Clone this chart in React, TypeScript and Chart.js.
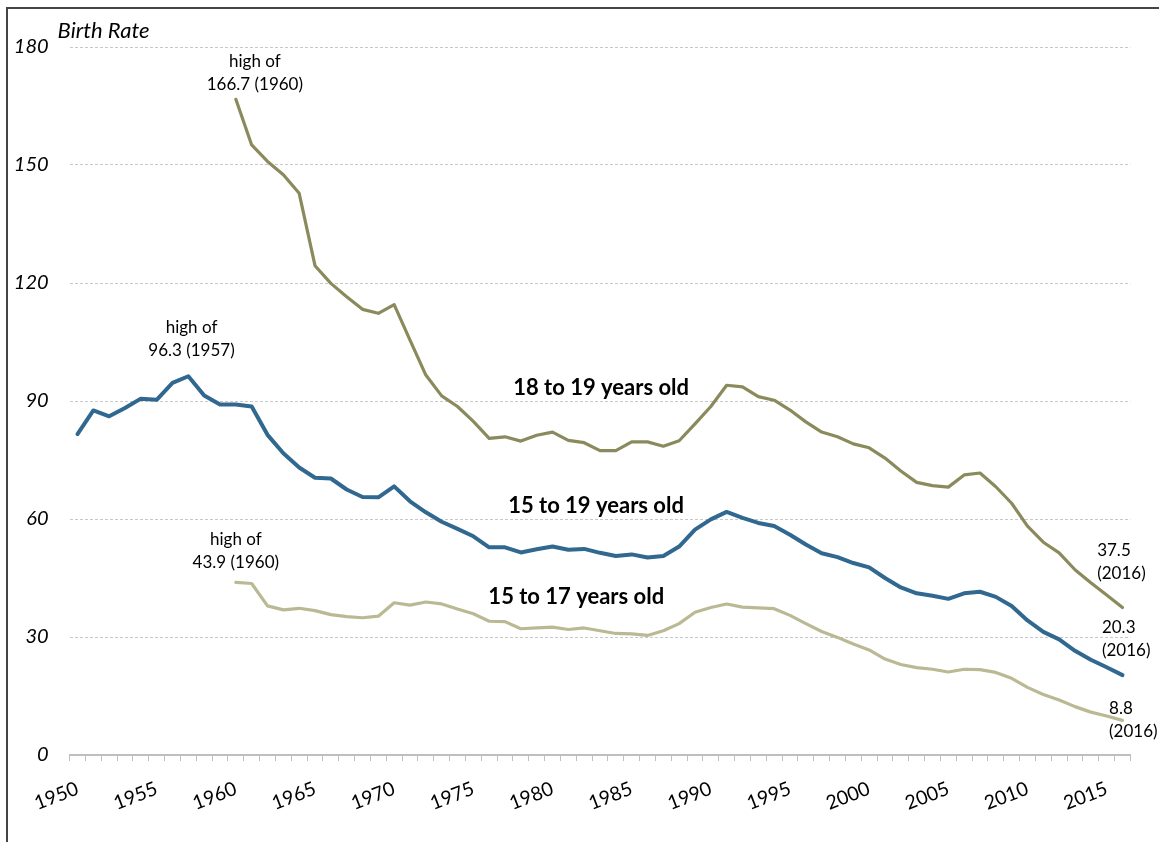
import React, { useEffect, useRef } from 'react';
import { Chart, registerables } from 'chart.js';

Chart.register(...registerables);

const years = [
  '1950','1951','1952','1953','1954','1955','1956','1957','1958','1959',
  '1960','1961','1962','1963','1964','1965','1966','1967','1968','1969',
  '1970','1971','1972','1973','1974','1975','1976','1977','1978','1979',
  '1980','1981','1982','1983','1984','1985','1986','1987','1988','1989',
  '1990','1991','1992','1993','1994','1995','1996','1997','1998','1999',
  '2000','2001','2002','2003','2004','2005','2006','2007','2008','2009',
  '2010','2011','2012','2013','2014','2015','2016',
];

const tickYears = ['1950','1955','1960','1965','1970','1975','1980','1985','1990','1995','2000','2005','2010','2015'];

const yTicks = [0, 30, 60, 90, 120, 150, 180];

// 15 to 19 years old
const rate15to19 = [
  81.6, 87.6, 86.1, 88.2, 90.6, 90.3, 94.6, 96.3, 91.4, 89.1,
  89.1, 88.6, 81.4, 76.7, 73.1, 70.5, 70.3, 67.5, 65.6, 65.5,
  68.3, 64.5, 61.7, 59.3, 57.5, 55.6, 52.8, 52.8, 51.5, 52.3,
  53.0, 52.2, 52.4, 51.4, 50.6, 51.0, 50.2, 50.6, 53.0, 57.3,
  59.9, 61.8, 60.3, 59.0, 58.2, 56.0, 53.5, 51.3, 50.3, 48.8,
  47.7, 45.0, 42.6, 41.1, 40.5, 39.7, 41.1, 41.5, 40.2, 37.9,
  34.2, 31.3, 29.4, 26.5, 24.2, 22.3, 20.3,
];

// 18 to 19 years old
const rate18to19 = [
  null, null, null, null, null, null, null, null, null, null,
  166.7, 155.1, 150.9, 147.5, 142.8, 124.4, 119.9, 116.5, 113.3, 112.3,
  114.5, 105.5, 96.6, 91.3, 88.6, 84.8, 80.5, 80.9, 79.8, 81.3,
  82.1, 80.0, 79.4, 77.4, 77.4, 79.6, 79.6, 78.5, 79.9, 84.2,
  88.6, 94.0, 93.6, 91.1, 90.2, 87.7, 84.7, 82.1, 80.9, 79.1,
  78.1, 75.5, 72.2, 69.3, 68.5, 68.1, 71.2, 71.7, 68.2, 64.0,
  58.2, 54.1, 51.4, 47.1, 43.8, 40.7, 37.5,
];

// 15 to 17 years old
const rate15to17 = [
  null, null, null, null, null, null, null, null, null, null,
  43.9, 43.6, 37.9, 36.9, 37.3, 36.7, 35.7, 35.2, 34.9, 35.3,
  38.7, 38.1, 38.9, 38.4, 37.1, 35.9, 34.0, 33.9, 32.1, 32.3,
  32.5, 31.9, 32.3, 31.6, 30.9, 30.8, 30.4, 31.6, 33.4, 36.3,
  37.5, 38.4, 37.6, 37.4, 37.2, 35.5, 33.4, 31.4, 29.9, 28.2,
  26.7, 24.4, 23.0, 22.2, 21.8, 21.1, 21.8, 21.7, 21.0, 19.5,
  17.2, 15.4, 14.0, 12.3, 10.9, 9.9, 8.8,
];

const seriesLabels = ['18 to 19 years old', '15 to 19 years old', '15 to 17 years old'];

// annotation text, positioned in data units (category index, value)
const notes = [
  { lines: ['high of', '166.7 (1960)'], x: 11.2, y: 176.2, align: 'center' },
  { lines: ['high of', '96.3 (1957)'], x: 7.2, y: 108.6, align: 'center' },
  { lines: ['high of', '43.9 (1960)'], x: 10.0, y: 54.7, align: 'center' },
  { lines: ['37.5', '(2016)'], x: 64.4, y: 52.1, align: 'left' },
  { lines: ['20.3', '(2016)'], x: 64.7, y: 32.3, align: 'left' },
  { lines: ['8.8', '(2016)'], x: 65.15, y: 11.9, align: 'left' },
];

const seriesNotes = [
  { text: seriesLabels[0], x: 33.07, y: 93.3 },
  { text: seriesLabels[1], x: 32.75, y: 63.3 },
  { text: seriesLabels[2], x: 31.5, y: 40.2 },
];

const annotationPlugin = {
  id: 'annotationText',
  afterDatasetsDraw(chart: any) {
    const ctx = chart.ctx;
    const xs = chart.scales.x;
    const ys = chart.scales.y;
    ctx.save();
    ctx.fillStyle = '#000';
    ctx.textBaseline = 'middle';
    ctx.font = '17px Lato';
    for (const n of notes) {
      ctx.textAlign = n.align;
      const px = xs.getPixelForValue(n.x);
      const py = ys.getPixelForValue(n.y);
      n.lines.forEach((l: string, i: number) => ctx.fillText(l, px, py + i * 23));
    }
    ctx.font = 'bold 22px Lato';
    ctx.textAlign = 'center';
    for (const s of seriesNotes) {
      ctx.fillText(s.text, xs.getPixelForValue(s.x), ys.getPixelForValue(s.y));
    }
    ctx.font = 'italic 22px Lato';
    ctx.textAlign = 'left';
    ctx.fillText('Birth Rate', chart.chartArea.left - 12, chart.chartArea.top - 16);
    ctx.restore();
  },
};

export default function App() {
  const ref = useRef<HTMLCanvasElement>(null);

  useEffect(() => {
    if (!ref.current) return;
    const chart = new Chart(ref.current, {
      type: 'line',
      data: {
        labels: years,
        datasets: [
          {
            label: seriesLabels[0],
            data: rate18to19,
            borderColor: '#8b8a5c',
            borderWidth: 3.2,
            pointRadius: 0,
            tension: 0,
            borderJoinStyle: 'round',
            borderCapStyle: 'round',
          },
          {
            label: seriesLabels[1],
            data: rate15to19,
            borderColor: '#31688f',
            borderWidth: 4,
            pointRadius: 0,
            tension: 0,
            borderJoinStyle: 'round',
            borderCapStyle: 'round',
          },
          {
            label: seriesLabels[2],
            data: rate15to17,
            borderColor: '#bbb994',
            borderWidth: 3.2,
            pointRadius: 0,
            tension: 0,
            borderJoinStyle: 'round',
            borderCapStyle: 'round',
          },
        ],
      },
      options: {
        animation: false,
        responsive: false,
        maintainAspectRatio: false,
        layout: { padding: { top: 47, right: 28.6, bottom: 0, left: 0 } },
        plugins: {
          legend: { display: false },
          tooltip: { enabled: false },
          title: { display: false },
        },
        scales: {
          x: {
            type: 'category',
            offset: true,
            grid: {
              display: true,
              drawOnChartArea: false,
              drawTicks: true,
              tickLength: 6,
              color: '#bfbfbf',
              offset: true,
              lineWidth: 1,
            },
            border: { display: true, color: '#bfbfbf', width: 2 },
            ticks: {
              autoSkip: false,
              maxRotation: 21,
              minRotation: 21,
              padding: 16,
              color: '#000',
              font: { family: 'Lato', size: 19.5 },
              callback: (_v: any, i: number) => (tickYears.includes(years[i]) ? years[i] : ''),
            },
            afterFit: (s: any) => {
              s.height = 87;
            },
          },
          y: {
            min: 0,
            max: 180,
            afterBuildTicks: (s: any) => {
              s.ticks = yTicks.map((v) => ({ value: v }));
            },
            ticks: {
              padding: 21,
              color: '#000',
              font: { family: 'Lato', size: 20, style: 'italic' },
            },
            grid: { color: '#c8c8c8', drawTicks: false, lineWidth: 1 },
            border: { display: false, dash: [3, 2] },
            afterFit: (s: any) => {
              s.width = 69.6;
            },
          },
        },
      },
      plugins: [annotationPlugin],
    } as any);
    return () => chart.destroy();
  }, []);

  return (
    <div style={{ position: 'fixed', left: 0, top: 0, width: 1159, height: 842, background: '#fff' }}>
      <canvas ref={ref} width={1159} height={842} style={{ display: 'block', width: 1159, height: 842 }} />
      <div
        style={{
          position: 'absolute',
          left: 6,
          top: 7,
          right: 0,
          bottom: 0,
          borderLeft: '2px solid #444',
          borderTop: '2px solid #444',
          pointerEvents: 'none',
        }}
      />
    </div>
  );
}
